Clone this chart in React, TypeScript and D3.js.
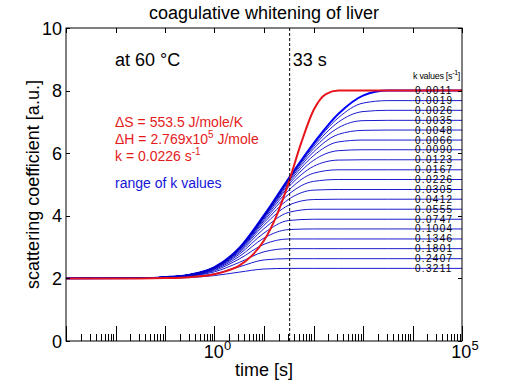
import { useEffect, useRef } from 'react';
import * as d3 from 'd3';

// sample times [s] shared by the blue curves
const timeSamples = [0.001, 0.0316, 0.1, 0.316, 1, 3.16, 10, 31.6, 100, 316, 1000, 3162, 10000, 100000];

// k labels, top to bottom
const kLabels = [
  '0.0011', '0.0019', '0.0026', '0.0035', '0.0048', '0.0066', '0.0090', '0.0123', '0.0167', '0.0226',
  '0.0305', '0.0412', '0.0555', '0.0747', '0.1004', '0.1346', '0.1801', '0.2407', '0.3211',
];

// scattering values for each blue curve (same order as kLabels)
const blueCurves = [
  [2.00, 2.01, 2.04, 2.12, 2.36, 2.97, 4.02, 5.20, 6.31, 7.25, 7.84, 8.00, 8.00, 8.00],
  [2.00, 2.01, 2.04, 2.12, 2.36, 2.97, 4.01, 5.18, 6.26, 7.13, 7.60, 7.68, 7.68, 7.68],
  [2.00, 2.01, 2.04, 2.12, 2.36, 2.96, 4.01, 5.17, 6.21, 6.99, 7.33, 7.37, 7.37, 7.37],
  [2.00, 2.01, 2.04, 2.12, 2.36, 2.96, 4.00, 5.14, 6.14, 6.81, 7.04, 7.05, 7.05, 7.05],
  [2.00, 2.01, 2.04, 2.12, 2.36, 2.96, 3.99, 5.11, 6.04, 6.60, 6.73, 6.74, 6.74, 6.74],
  [2.00, 2.01, 2.04, 2.12, 2.36, 2.95, 3.97, 5.06, 5.92, 6.36, 6.42, 6.42, 6.42, 6.42],
  [2.00, 2.01, 2.04, 2.12, 2.36, 2.95, 3.95, 5.00, 5.77, 6.08, 6.11, 6.11, 6.11, 6.11],
  [2.00, 2.01, 2.04, 2.12, 2.35, 2.94, 3.93, 4.93, 5.58, 5.78, 5.79, 5.79, 5.79, 5.79],
  [2.00, 2.01, 2.04, 2.12, 2.35, 2.93, 3.89, 4.82, 5.36, 5.47, 5.47, 5.47, 5.47, 5.47],
  [2.00, 2.01, 2.04, 2.12, 2.35, 2.91, 3.84, 4.69, 5.10, 5.16, 5.16, 5.16, 5.16, 5.16],
  [2.00, 2.01, 2.04, 2.11, 2.34, 2.89, 3.78, 4.53, 4.82, 4.84, 4.84, 4.84, 4.84, 4.84],
  [2.00, 2.01, 2.04, 2.11, 2.33, 2.86, 3.70, 4.34, 4.52, 4.53, 4.53, 4.53, 4.53, 4.53],
  [2.00, 2.01, 2.04, 2.11, 2.32, 2.82, 3.59, 4.11, 4.21, 4.21, 4.21, 4.21, 4.21, 4.21],
  [2.00, 2.01, 2.03, 2.10, 2.30, 2.77, 3.45, 3.85, 3.89, 3.89, 3.89, 3.89, 3.89, 3.89],
  [2.00, 2.01, 2.03, 2.09, 2.28, 2.70, 3.29, 3.56, 3.58, 3.58, 3.58, 3.58, 3.58, 3.58],
  [2.00, 2.01, 2.03, 2.08, 2.25, 2.62, 3.09, 3.26, 3.26, 3.26, 3.26, 3.26, 3.26, 3.26],
  [2.00, 2.01, 2.02, 2.07, 2.21, 2.51, 2.85, 2.95, 2.95, 2.95, 2.95, 2.95, 2.95, 2.95],
  [2.00, 2.01, 2.02, 2.05, 2.15, 2.37, 2.59, 2.63, 2.63, 2.63, 2.63, 2.63, 2.63, 2.63],
  [2.00, 2.00, 2.01, 2.03, 2.09, 2.20, 2.30, 2.32, 2.32, 2.32, 2.32, 2.32, 2.32, 2.32],
];

// red curve (k = 0.0226 1/s)
const redTimes = [0.001, 0.0316, 0.1, 0.316, 1, 1.78, 3.16, 5.62, 10, 17.8, 31.6, 56.2, 100, 178, 316, 1000, 100000];
const redValues = [2.00, 2.00, 2.01, 2.04, 2.13, 2.24, 2.41, 2.72, 3.21, 3.99, 5.07, 6.32, 7.37, 7.89, 8.00, 8.00, 8.00];

const yTicks = [0, 2, 4, 6, 8, 10];
const xLabelExps = [0, 5];
const markTime = 33;

const FONT = 'Liberation Sans, Arial, Helvetica, sans-serif';

export default function App() {
  const svgRef = useRef<SVGSVGElement>(null);
  const width = 512;
  const height = 384;

  useEffect(() => {
    if (!svgRef.current) return;
    const svg = d3.select(svgRef.current);
    svg.selectAll('*').remove();

    const left = 66, right = 462, top = 28, bottom = 341;
    const x = d3.scaleLog().domain([1e-3, 1e5]).range([left, right]);
    const y = d3.scaleLinear().domain([0, 10]).range([bottom, top]);

    svg.append('rect').attr('width', width).attr('height', height).attr('fill', '#fff');

    const clip = svg.append('defs').append('clipPath').attr('id', 'plot');
    clip.append('rect').attr('x', left).attr('y', top).attr('width', right - left).attr('height', bottom - top);

    const g = svg.append('g').attr('clip-path', 'url(#plot)');

    // blue curves
    blueCurves.forEach((vals, i) => {
      const line = d3.line<number>()
        .x((_, j) => x(timeSamples[j]))
        .y(v => y(v))
        .curve(d3.curveMonotoneX);
      g.append('path')
        .attr('d', line(vals) as string)
        .attr('fill', 'none')
        .attr('stroke', i === 0 ? '#0000ff' : '#0000c8')
        .attr('stroke-width', i === 0 ? 2 : 0.9);
    });

    // red curve
    const redLine = d3.line<number>()
      .x((_, j) => x(redTimes[j]))
      .y(v => y(v))
      .curve(d3.curveMonotoneX);
    g.append('path')
      .attr('d', redLine(redValues) as string)
      .attr('fill', 'none')
      .attr('stroke', '#e8141c')
      .attr('stroke-width', 2);

    // dashed marker
    svg.append('line')
      .attr('x1', x(markTime)).attr('x2', x(markTime))
      .attr('y1', top).attr('y2', bottom)
      .attr('stroke', '#000').attr('stroke-width', 1)
      .attr('stroke-dasharray', '3,2');

    // box
    svg.append('rect')
      .attr('x', left).attr('y', top).attr('width', right - left).attr('height', bottom - top)
      .attr('fill', 'none').attr('stroke', '#000').attr('stroke-width', 1);

    // x ticks
    const axis = svg.append('g').attr('stroke', '#000').attr('stroke-width', 1);
    for (let e = -3; e <= 5; e++) {
      const xp = Math.round(x(Math.pow(10, e))) + 0.5;
      axis.append('line').attr('x1', xp).attr('x2', xp).attr('y1', bottom).attr('y2', bottom - 15);
      axis.append('line').attr('x1', xp).attr('x2', xp).attr('y1', top).attr('y2', top + 5);
      if (e < 5) {
        for (let m = 2; m <= 9; m++) {
          const xm = Math.round(x(m * Math.pow(10, e))) + 0.5;
          axis.append('line').attr('x1', xm).attr('x2', xm).attr('y1', bottom).attr('y2', bottom - 7);
        }
      }
    }

    // y ticks
    yTicks.forEach(t => {
      const yp = Math.round(y(t)) + 0.5;
      axis.append('line').attr('x1', left).attr('x2', left + 4).attr('y1', yp).attr('y2', yp);
      axis.append('line').attr('x1', right).attr('x2', right - 4).attr('y1', yp).attr('y2', yp);
      svg.append('text')
        .attr('x', left - 4).attr('y', y(t) + 6.5)
        .attr('text-anchor', 'end')
        .attr('font-family', FONT).attr('font-size', 18)
        .text(String(t));
    });

    // x tick labels
    xLabelExps.forEach(e => {
      const t = svg.append('text')
        .attr('x', x(Math.pow(10, e)) + 3).attr('y', 358)
        .attr('text-anchor', 'middle')
        .attr('font-family', FONT).attr('font-size', 18);
      t.append('tspan').text('10');
      t.append('tspan').attr('dy', -8).attr('font-size', 13).text(String(e));
    });

    // axis labels and title
    svg.append('text')
      .attr('x', (left + right) / 2).attr('y', 376)
      .attr('text-anchor', 'middle')
      .attr('font-family', FONT).attr('font-size', 18)
      .text('time [s]');

    svg.append('text')
      .attr('transform', `translate(39,${(top + bottom) / 2}) rotate(-90)`)
      .attr('text-anchor', 'middle')
      .attr('font-family', FONT).attr('font-size', 18)
      .text('scattering coefficient [a.u.]');

    svg.append('text')
      .attr('x', (left + right) / 2).attr('y', 19)
      .attr('text-anchor', 'middle')
      .attr('font-family', FONT).attr('font-size', 18)
      .text('coagulative whitening of liver');

    // annotations
    svg.append('text')
      .attr('x', 115).attr('y', 66)
      .attr('font-family', FONT).attr('font-size', 18)
      .text('at 60 °C');

    svg.append('text')
      .attr('x', x(markTime) + 3).attr('y', 66)
      .attr('font-family', FONT).attr('font-size', 18)
      .text(`${markTime} s`);

    const red = svg.append('g')
      .attr('font-family', FONT).attr('font-size', 14).attr('fill', '#e31b1b');
    red.append('text').attr('x', 115).attr('y', 127).text('ΔS = 553.5 J/mole/K');
    const dh = red.append('text').attr('x', 115).attr('y', 144);
    dh.append('tspan').text('ΔH = 2.769x10');
    dh.append('tspan').attr('dy', -6).attr('font-size', 10).text('5');
    dh.append('tspan').attr('dy', 6).text(' J/mole');
    const kt = red.append('text').attr('x', 115).attr('y', 161);
    kt.append('tspan').text('k = 0.0226 s');
    kt.append('tspan').attr('dy', -6).attr('font-size', 10).text('-1');

    svg.append('text')
      .attr('x', 115).attr('y', 188)
      .attr('font-family', FONT).attr('font-size', 14).attr('fill', '#1515d8')
      .text('range of k values');

    // k value labels
    const hdr = svg.append('text')
      .attr('x', 413).attr('y', 79)
      .attr('font-family', FONT).attr('font-size', 9).attr('letter-spacing', -0.3);
    hdr.append('tspan').text('k values [s');
    hdr.append('tspan').attr('dy', -4).attr('font-size', 7).text('-1');
    hdr.append('tspan').attr('dy', 4).text(']');

    kLabels.forEach((lab, i) => {
      const vals = blueCurves[i];
      svg.append('text')
        .attr('x', 415).attr('y', y(vals[vals.length - 1]) + 3.5)
        .attr('font-family', FONT).attr('font-size', 10).attr('letter-spacing', 1.3)
        .text(lab);
    });
  }, []);

  return (
    <div style={{ position: 'absolute', left: 0, top: 0 }}>
      <svg ref={svgRef} width={width} height={height} style={{ display: 'block' }} />
    </div>
  );
}
